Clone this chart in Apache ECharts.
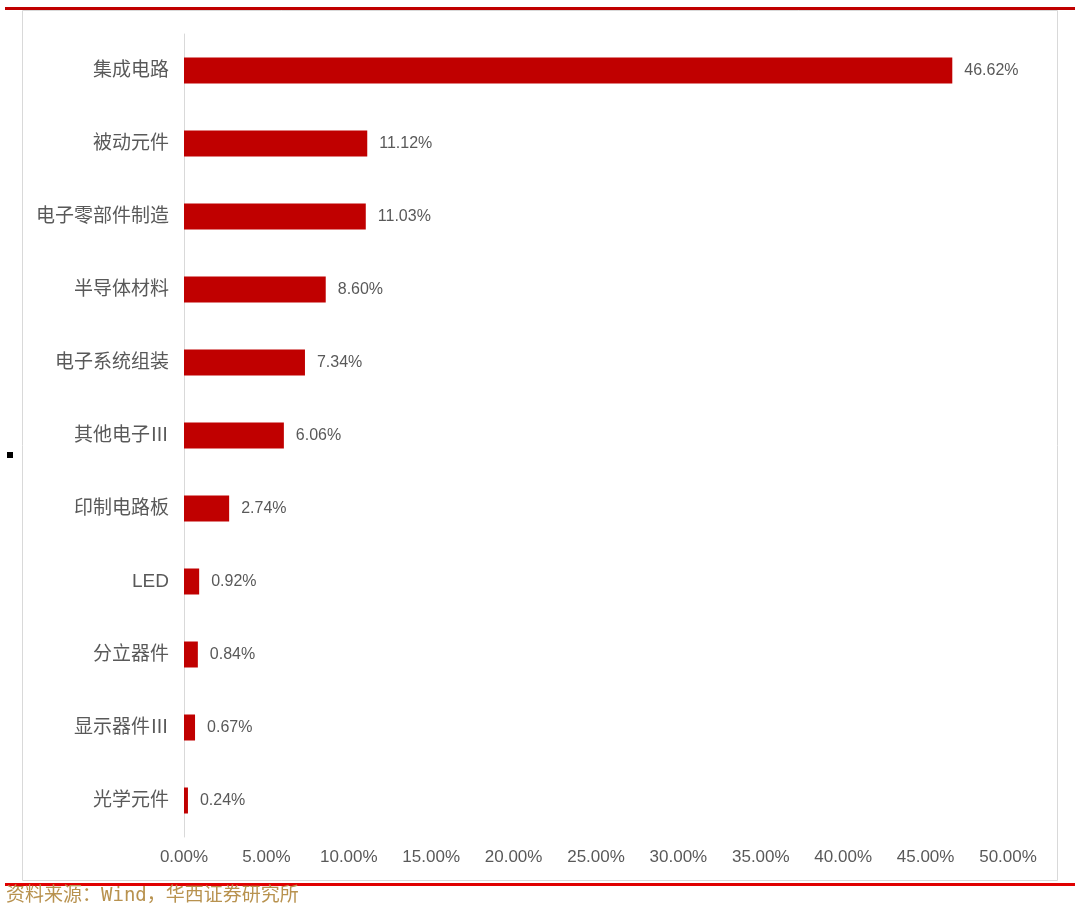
<!DOCTYPE html>
<html><head><meta charset="utf-8">
<script src="https://cdn.jsdelivr.net/npm/echarts@6/dist/echarts.min.js"></script>
<style>html,body{margin:0;padding:0;background:#fff}#c{width:1080px;height:912px}</style>
</head><body><div id="c"></div>
<script>
const categories = ['集成电路','被动元件','电子零部件制造','半导体材料','电子系统组装','其他电子Ⅲ','印制电路板','LED','分立器件','显示器件Ⅲ','光学元件'];
const values = [46.62,11.12,11.03,8.60,7.34,6.06,2.74,0.92,0.84,0.67,0.24];
const xTicks = {min:0,max:50,interval:5};
const sourceText = '资料来源：Wind，华西证券研究所';

const chart = echarts.init(document.getElementById('c'), null, {renderer:'canvas'});
const font = '"Liberation Sans","Noto Sans CJK SC",sans-serif';
chart.setOption({
  animation:false,
  backgroundColor:'#fff',
  grid:{left:184,right:72,top:34,bottom:75,containLabel:false},
  xAxis:{type:'value',min:xTicks.min,max:xTicks.max,interval:xTicks.interval,
    axisLine:{show:false},axisTick:{show:false},splitLine:{show:false},
    axisLabel:{color:'#595959',fontSize:17,fontFamily:font,margin:12,
      formatter:v=>v.toFixed(2)+'%'}},
  yAxis:{type:'category',data:categories.slice().reverse(),
    axisLine:{show:true,lineStyle:{color:'#D9D9D9',width:1}},
    axisTick:{show:false},
    axisLabel:{color:'#595959',fontSize:19,fontFamily:font,margin:15}},
  series:[{type:'bar',data:values.slice().reverse(),barWidth:26,
    itemStyle:{color:'#C00000'},
    label:{show:true,position:'right',distance:12,color:'#595959',fontSize:16,fontFamily:font,
      formatter:p=>p.value.toFixed(2)+'%'}}],
  graphic:[
    {type:'rect',shape:{x:22.5,y:10.5,width:1035,height:870},style:{fill:'none',stroke:'#D9D9D9',lineWidth:1},z:-1},
    {type:'rect',shape:{x:5,y:7,width:1070,height:3},style:{fill:'#C00000'}},
    {type:'rect',shape:{x:5,y:883,width:1070,height:3},style:{fill:'#E00000'}},
    {type:'rect',shape:{x:7,y:452,width:6,height:6},style:{fill:'#000'}},
    {type:'text',left:6,top:887,style:{text:sourceText,fill:'#B8924F',fontSize:19,fontFamily:'"DejaVu Sans Mono","Noto Sans CJK SC",monospace'}}
  ]
});
</script></body></html>
